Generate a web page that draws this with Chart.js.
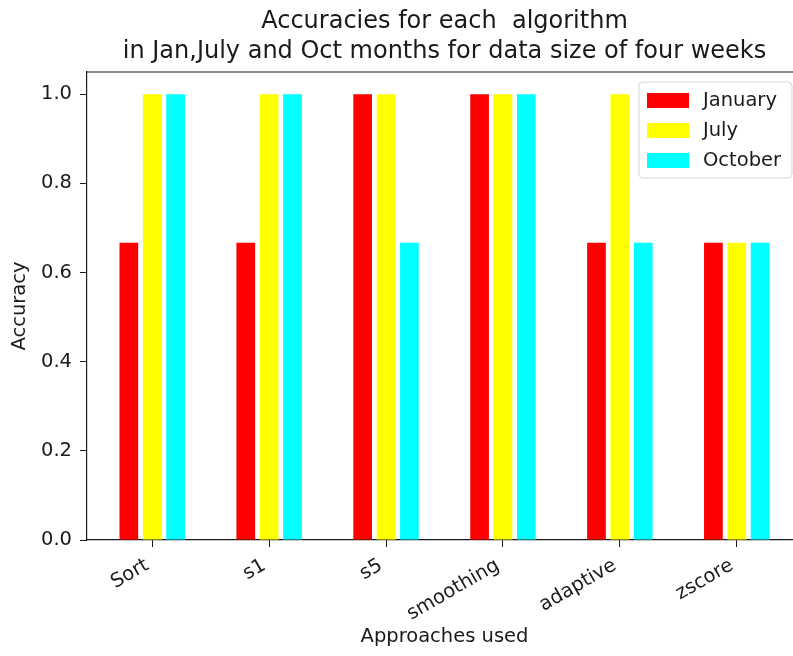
<!DOCTYPE html>
<html>
<head>
<meta charset="utf-8">
<script src="https://cdn.jsdelivr.net/npm/chart.js@4.4.1/dist/chart.umd.min.js"></script>
<style>
  html, body { margin: 0; padding: 0; background: #fff; overflow: hidden; }
  #wrap { width: 793px; height: 656px; overflow: hidden; }
</style>
</head>
<body>
<div id="wrap"><canvas id="c" width="889" height="656"></canvas></div>
<script>
// Accuracy of each approach per month
const approaches = ['Sort', 's1', 's5', 'smoothing', 'adaptive', 'zscore'];
const monthNames = ['January', 'July', 'October'];
const january = [0.667, 0.667, 1.0, 1.0, 0.667, 0.667];
const july    = [1.0, 1.0, 1.0, 1.0, 1.0, 0.667];
const october = [1.0, 1.0, 0.667, 1.0, 0.667, 0.667];
const yTicks  = [0.0, 0.2, 0.4, 0.6, 0.8, 1.0];
const titleLines = ['Accuracies for each  algorithm', 'in Jan,July and Oct months for data size of four weeks'];

const FONT = 'DejaVu Sans';
const INK = '#1a1a1a';
const LABEL_SIZE = 19.5;
const colors = ['#ff0000', '#ffff00', '#00ffff'];
const series = [january, july, october];

const datasets = series.map((vals, k) => ({
  label: monthNames[k],
  data: vals.map((v, i) => ({ x: i, y: v })),
  backgroundColor: colors[k],
  borderWidth: 0,
  categoryPercentage: 0.6,
  barPercentage: 0.8
}));

// title over the plot, top/right frame lines and the boxed legend inside the plot
const framePlugin = {
  id: 'frame',
  afterDraw(chart) {
    const { ctx, chartArea: a } = chart;
    ctx.save();

    ctx.fillStyle = INK;
    ctx.font = '24px "' + FONT + '"';
    ctx.textAlign = 'center';
    ctx.textBaseline = 'middle';
    const cx = (a.left + a.right) / 2;
    titleLines.forEach((t, i) => ctx.fillText(t, cx, a.top - 50 + i * 30));

    ctx.strokeStyle = INK;
    ctx.lineWidth = 1.2;
    ctx.beginPath();
    ctx.moveTo(a.left, a.top);
    ctx.lineTo(a.right, a.top);
    ctx.lineTo(a.right, a.bottom);
    ctx.stroke();

    // legend
    const w = 153, h = 96;
    const x0 = a.right - 10 - w, y0 = a.top + 10;
    ctx.globalAlpha = 0.8;
    ctx.fillStyle = '#fff';
    ctx.strokeStyle = '#cccccc';
    ctx.lineWidth = 1;
    const r = 4;
    ctx.beginPath();
    ctx.moveTo(x0 + r, y0);
    ctx.arcTo(x0 + w, y0, x0 + w, y0 + h, r);
    ctx.arcTo(x0 + w, y0 + h, x0, y0 + h, r);
    ctx.arcTo(x0, y0 + h, x0, y0, r);
    ctx.arcTo(x0, y0, x0 + w, y0, r);
    ctx.closePath();
    ctx.fill();
    ctx.stroke();
    ctx.globalAlpha = 1;
    ctx.font = LABEL_SIZE + 'px "' + FONT + '"';
    ctx.textBaseline = 'middle';
    ctx.textAlign = 'left';
    chart.data.datasets.forEach((ds, k) => {
      const cy = y0 + 18.5 + k * 30;
      ctx.fillStyle = ds.backgroundColor;
      ctx.fillRect(x0 + 8, cy - 7.5, 42, 15);
      ctx.fillStyle = INK;
      ctx.fillText(ds.label, x0 + 64, cy);
    });
    ctx.restore();
  }
};

new Chart(document.getElementById('c'), {
  type: 'bar',
  data: { datasets },
  options: {
    responsive: false,
    animation: false,
    devicePixelRatio: 1,
    layout: { padding: { left: 0, right: 87, top: 72, bottom: 0 } },
    plugins: {
      legend: { display: false },
      tooltip: { enabled: false },
      title: { display: false }
    },
    scales: {
      x: {
        type: 'linear',
        min: -0.558,
        max: 5.558,
        offset: false,
        afterFit(s) { s.height = 116; },
        afterBuildTicks(s) { s.ticks = approaches.map((_, i) => ({ value: i })); },
        grid: { display: true, drawOnChartArea: false, drawTicks: true, tickLength: 7, color: INK, offset: false },
        border: { display: true, color: INK, width: 1.2 },
        ticks: {
          minRotation: 30, maxRotation: 30, padding: 7, labelOffset: -5, autoSkip: false,
          color: INK, font: { family: FONT, size: LABEL_SIZE },
          callback: (v) => approaches[v]
        },
        title: {
          display: true, text: 'Approaches used', color: INK,
          font: { family: FONT, size: LABEL_SIZE, weight: 'normal' },
          padding: { top: 0, bottom: 7 }
        }
      },
      y: {
        min: 0,
        max: 1.05,
        afterFit(s) { s.width = 87; },
        afterBuildTicks(s) { s.ticks = yTicks.map(v => ({ value: v })); },
        grid: { display: true, drawOnChartArea: false, drawTicks: true, tickLength: 7, color: INK },
        border: { display: true, color: INK, width: 1.2 },
        ticks: {
          padding: 8, color: INK, font: { family: FONT, size: LABEL_SIZE },
          callback: (v) => v.toFixed(1)
        },
        title: {
          display: true, text: 'Accuracy', color: INK,
          font: { family: FONT, size: LABEL_SIZE, weight: 'normal' },
          padding: { top: 8, bottom: 0 }
        }
      }
    }
  },
  plugins: [framePlugin]
});
</script>
</body>
</html>
